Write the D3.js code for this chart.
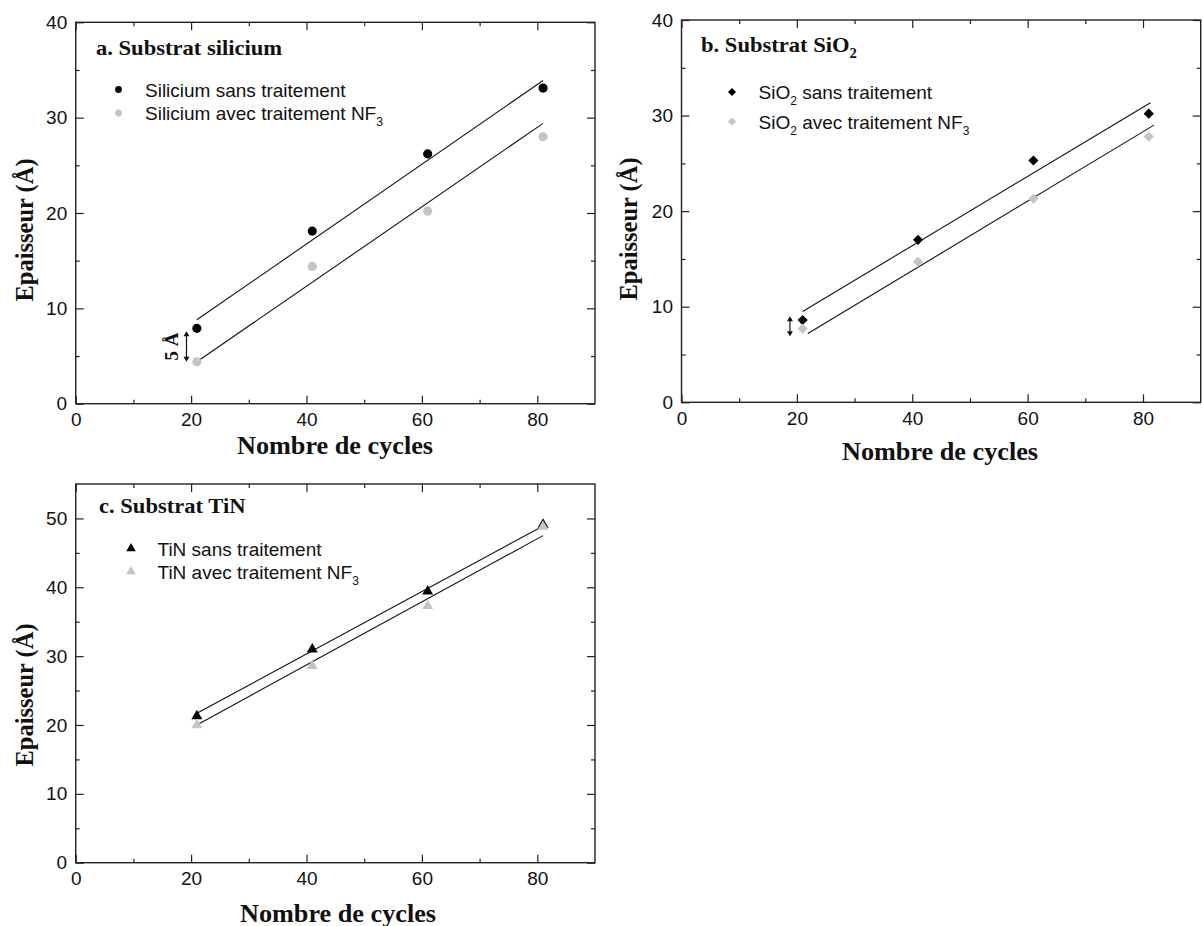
<!DOCTYPE html>
<html><head><meta charset="utf-8">
<script src="https://cdn.jsdelivr.net/npm/d3@7"></script>
<style>body{margin:0;background:#fff}svg{display:block}</style>
</head><body>
<svg id="chart" width="1202" height="926"></svg>
<script>
// ---- data ----
const cycles = [21, 41, 61, 81];
const xTicks = [0, 20, 40, 60, 80];
const xMinorTicks = [10, 30, 50, 70];

const siSans = [7.9, 18.1, 26.2, 33.1];
const siAvec = [4.4, 14.4, 20.2, 28.0];
const sio2Sans = [8.6, 17.0, 25.3, 30.2];
const sio2Avec = [7.7, 14.7, 21.3, 27.8];
const tinSans = [21.3, 31.0, 39.4, 49.1];
const tinAvec = [20.0, 28.6, 37.3, 48.8];

// fitted lines (start / end)
const fitSiSansX = [21, 81],   fitSiSansY = [8.8, 33.9];
const fitSiAvecX = [21, 81],   fitSiAvecY = [4.4, 29.4];
const fitSio2SansX = [21, 81.3], fitSio2SansY = [9.5, 31.35];
const fitSio2AvecX = [21.9, 81.9], fitSio2AvecY = [7.2, 29.0];
const fitTinSansX = [21, 81],  fitTinSansY = [21.7, 48.9];
const fitTinAvecX = [21, 81],  fitTinAvecY = [20.0, 47.5];

const yTicks40 = [0, 10, 20, 30, 40], yMinor40 = [5, 15, 25, 35];
const yTicks55 = [0, 10, 20, 30, 40, 50], yMinor55 = [5, 15, 25, 35, 45];

const BLACK = "#000", GRAY = "#c4c4c4";
const svg = d3.select("#chart");

function panel(o) {
  const x = d3.scaleLinear().domain([0, 90]).range([o.left, o.right]);
  const y = d3.scaleLinear().domain([0, o.ymax]).range([o.bottom, o.top]);
  const g = svg.append("g");
  const tickFont = "19px 'Liberation Sans', Arial, sans-serif";

  function ax(axis, tr) {
    const a = g.append("g").attr("transform", tr).call(axis);
    a.select(".domain").remove();
    a.selectAll("line").attr("stroke", "#222").attr("stroke-width", 1.2);
    a.selectAll("text").style("font", tickFont).attr("fill", "#111");
    return a;
  }
  // bottom
  ax(d3.axisBottom(x).tickValues(xTicks).tickSize(-8).tickSizeOuter(0).tickPadding(9).tickFormat(d3.format("d")), `translate(0,${o.bottom})`);
  ax(d3.axisBottom(x).tickValues(xMinorTicks).tickSize(-4).tickSizeOuter(0).tickFormat(""), `translate(0,${o.bottom})`);
  // top
  ax(d3.axisTop(x).tickValues(xTicks).tickSize(-8).tickSizeOuter(0).tickFormat(""), `translate(0,${o.top})`);
  ax(d3.axisTop(x).tickValues(xMinorTicks).tickSize(-4).tickSizeOuter(0).tickFormat(""), `translate(0,${o.top})`);
  // left
  ax(d3.axisLeft(y).tickValues(o.yt).tickSize(-8).tickSizeOuter(0).tickPadding(8.5).tickFormat(d3.format("d")), `translate(${o.left},0)`);
  ax(d3.axisLeft(y).tickValues(o.ym).tickSize(-4).tickSizeOuter(0).tickFormat(""), `translate(${o.left},0)`);
  // right
  ax(d3.axisRight(y).tickValues(o.yt).tickSize(-8).tickSizeOuter(0).tickFormat(""), `translate(${o.right},0)`);
  ax(d3.axisRight(y).tickValues(o.ym).tickSize(-4).tickSizeOuter(0).tickFormat(""), `translate(${o.right},0)`);

  g.append("rect").attr("x", o.left).attr("y", o.top)
    .attr("width", o.right - o.left).attr("height", o.bottom - o.top)
    .attr("fill", "none").attr("stroke", "#222").attr("stroke-width", 1.4);

  // fit lines
  const line = d3.line().x(d => x(d[0])).y(d => y(d[1]));
  [[o.fitSX, o.fitSY], [o.fitAX, o.fitAY]].forEach(([fx, fy]) => {
    g.append("path").datum(d3.zip(fx, fy)).attr("d", line)
      .attr("fill", "none").attr("stroke", "#111").attr("stroke-width", 1.1);
  });

  // markers
  const sym = (size) => d3.symbol().type(o.symbol).size(size);
  const rot = o.symbol === d3.symbolSquare ? " rotate(45)" : "";
  [[o.sans, BLACK], [o.avec, GRAY]].forEach(([vals, col]) => {
    g.selectAll(null).data(d3.zip(cycles, vals)).join("path")
      .attr("d", sym(o.msize)())
      .attr("transform", d => `translate(${x(d[0])},${y(d[1])})${rot}`)
      .attr("fill", col);
  });

  // panel title
  const t = g.append("text").attr("transform", `translate(${o.titleX},${o.titleY}) scale(1.05,1)`)
    .style("font", "bold 21.5px 'Liberation Serif', 'Times New Roman', serif").attr("fill", "#111");
  t.append("tspan").text(o.title);
  if (o.titleSub) t.append("tspan").attr("dy", 6).style("font-size", "14px").text(o.titleSub);

  // legend
  const lf = "19px 'Liberation Sans', Arial, sans-serif";
  o.legend.forEach((L, i) => {
    const ly = o.legY[i];
    g.append("path").attr("d", sym(o.lsize)())
      .attr("transform", `translate(${o.legMX},${ly})${rot}`)
      .attr("fill", i === 0 ? BLACK : GRAY);
    const tx = g.append("text").attr("x", o.legTX).attr("y", ly + 7)
      .style("font", lf).attr("fill", "#111");
    L.forEach(part => {
      if (typeof part === "string") tx.append("tspan").text(part);
      else {
        tx.append("tspan").attr("dy", 6).style("font-size", "12px").text(part.sub);
        tx.append("tspan").attr("dy", -6).text(part.after || "");
      }
    });
  });

  // axis titles
  const af = "bold 24.5px 'Liberation Serif', 'Times New Roman', serif";
  g.append("text").attr("transform", `translate(${o.xtX},${o.xtY}) scale(1.07,1)`).attr("text-anchor", "middle")
    .style("font", af).attr("fill", "#111").text("Nombre de cycles");
  g.append("text").attr("transform", `translate(${o.ytX},${o.ytY}) rotate(-90)`)
    .attr("text-anchor", "middle").style("font", af).attr("fill", "#111").text("Epaisseur (Å)");

  // double arrow annotation
  if (o.arrow) {
    const ax0 = x(o.arrow[0]), ay1 = y(o.arrow[1]), ay2 = y(o.arrow[2]);
    g.append("line").attr("x1", ax0).attr("x2", ax0).attr("y1", ay1 + 3).attr("y2", ay2 - 3)
      .attr("stroke", "#111").attr("stroke-width", 1.2);
    g.append("path").attr("d", `M${ax0 - 3},${ay1 + 5}L${ax0},${ay1}L${ax0 + 3},${ay1 + 5}Z`).attr("fill", "#111");
    g.append("path").attr("d", `M${ax0 - 3},${ay2 - 5}L${ax0},${ay2}L${ax0 + 3},${ay2 - 5}Z`).attr("fill", "#111");
    if (o.arrowLabel) {
      g.append("text").attr("transform", `translate(${ax0 - 8},${(ay1 + ay2) / 2}) rotate(-90)`)
        .attr("text-anchor", "middle")
        .style("font", "bold 19px 'Liberation Serif', 'Times New Roman', serif").attr("fill", "#111")
        .text(o.arrowLabel);
    }
  }
}

panel({
  left: 75.7, right: 595, top: 22.3, bottom: 403.7, ymax: 40, yt: yTicks40, ym: yMinor40,
  sans: siSans, avec: siAvec, fitSX: fitSiSansX, fitSY: fitSiSansY, fitAX: fitSiAvecX, fitAY: fitSiAvecY,
  symbol: d3.symbolCircle, msize: 66, lsize: 36,
  title: "a. Substrat silicium", titleX: 96, titleY: 55,
  legend: [["Silicium sans traitement"], ["Silicium avec traitement NF", {sub: "3"}]],
  legY: [89.5, 113], legMX: 118.5, legTX: 145,
  xtX: 335, xtY: 453.5, ytX: 33, ytY: 230,
  arrow: [19.2, 7.6, 4.4], arrowLabel: "5 Å"
});

panel({
  left: 681.5, right: 1200.7, top: 20, bottom: 402.3, ymax: 40, yt: yTicks40, ym: yMinor40,
  sans: sio2Sans, avec: sio2Avec, fitSX: fitSio2SansX, fitSY: fitSio2SansY, fitAX: fitSio2AvecX, fitAY: fitSio2AvecY,
  symbol: d3.symbolSquare, msize: 52, lsize: 34,
  title: "b. Substrat SiO", titleSub: "2", titleX: 701, titleY: 52,
  legend: [["SiO", {sub: "2", after: " sans traitement"}], ["SiO", {sub: "2", after: " avec traitement NF"}, {sub: "3"}]],
  legY: [92, 121.5], legMX: 732, legTX: 758.5,
  xtX: 940, xtY: 460, ytX: 637, ytY: 229,
  arrow: [18.8, 9.0, 6.9]
});

panel({
  left: 75.7, right: 595, top: 484, bottom: 862.7, ymax: 55, yt: yTicks55, ym: yMinor55,
  sans: tinSans, avec: tinAvec, fitSX: fitTinSansX, fitSY: fitTinSansY, fitAX: fitTinAvecX, fitAY: fitTinAvecY,
  symbol: d3.symbolTriangle, msize: 52, lsize: 40,
  title: "c. Substrat TiN", titleX: 99, titleY: 513,
  legend: [["TiN sans traitement"], ["TiN avec traitement NF", {sub: "3"}]],
  legY: [548.5, 571.5], legMX: 131, legTX: 157.5,
  xtX: 338, xtY: 921.5, ytX: 33, ytY: 695
});
</script>
</body></html>
